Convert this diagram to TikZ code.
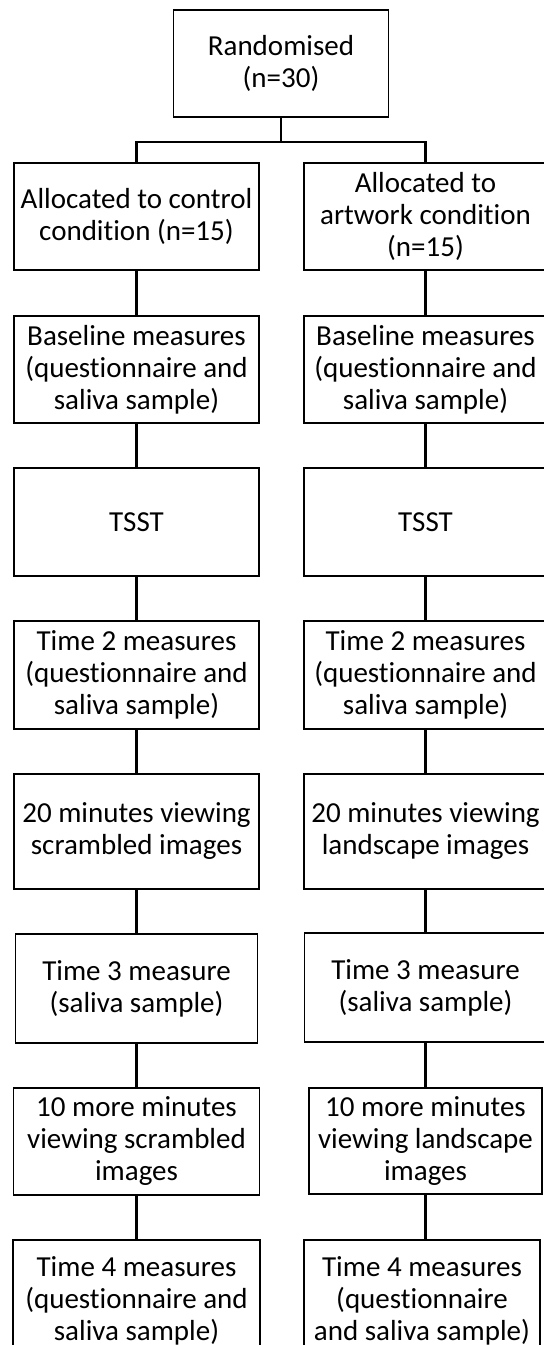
\documentclass[tikz,border=0pt]{standalone}
\usepackage{fontspec}
\setmainfont[Ligatures=NoCommon]{Carlito}
\begin{document}
\begin{tikzpicture}[x=1bp,y=-1bp,
  box/.style={draw, line width=1.3bp, inner sep=0pt, align=center, font=\fontsize{29bp}{32bp}\selectfont},
  link/.style={line width=2.2bp}]
\useasboundingbox (0,0) rectangle (544,1345);
\clip (0,0) rectangle (544,1345);
\node[box, minimum width=215.5bp, minimum height=107bp] (top) at (281,63.5) {Randomised\\(n=30)};
% left column
\node[box, minimum width=245bp, minimum height=107bp] (aL) at (136.5,216.5) {Allocated to control\\condition (n=15)};
\node[box, minimum width=245bp, minimum height=107bp] (bL) at (136.5,369.5) {Baseline measures\\(questionnaire and\\saliva sample)};
\node[box, minimum width=245bp, minimum height=108bp] (tL) at (136.5,522) {TSST};
\node[box, minimum width=245bp, minimum height=108bp] (sL) at (136.5,675) {Time 2 measures\\(questionnaire and\\saliva sample)};
\node[box, minimum width=245bp, minimum height=115bp] (vL) at (136.5,831.5) {20 minutes viewing\\scrambled images};
\node[box, minimum width=241.5bp, minimum height=109bp] (hL) at (136.5,988.5) {Time 3 measure\\(saliva sample)};
\node[box, minimum width=246.5bp, minimum height=107bp] (mL) at (136.5,1141.5) {10 more minutes\\viewing scrambled\\images};
\node[box, minimum width=247bp, minimum height=121bp] (fL) at (136.5,1300.5) {Time 4 measures\\(questionnaire and\\saliva sample)};
% right column
\node[box, minimum width=243bp, minimum height=107bp] (aR) at (425.5,216.5) {Allocated to\\artwork condition\\(n=15)};
\node[box, minimum width=243bp, minimum height=107bp] (bR) at (425.5,369.5) {Baseline measures\\(questionnaire and\\saliva sample)};
\node[box, minimum width=243bp, minimum height=108bp] (tR) at (425.5,522) {TSST};
\node[box, minimum width=243bp, minimum height=108bp] (sR) at (425.5,675) {Time 2 measures\\(questionnaire and\\saliva sample)};
\node[box, minimum width=243bp, minimum height=115bp] (vR) at (425.5,831.5) {20 minutes viewing\\landscape images};
\node[box, minimum width=242.5bp, minimum height=109bp] (hR) at (425.5,987.5) {Time 3 measure\\(saliva sample)};
\node[box, minimum width=233bp, minimum height=106bp] (mR) at (425.5,1141) {10 more minutes\\viewing landscape\\images};
\node[box, minimum width=236bp, minimum height=121bp] (fR) at (422,1300.5) {Time 4 measures\\(questionnaire\\and saliva sample)};
% connectors
\coordinate (fork) at ([yshift=-24bp]top.south);
\draw[link] (top.south) -- (fork);
\draw[link] (fork) -| (aL.north);
\draw[link] (fork) -| (aR.north);
\foreach \a/\b in {aL/bL,bL/tL,tL/sL,sL/vL,vL/hL,hL/mL,mL/fL,aR/bR,bR/tR,tR/sR,sR/vR,vR/hR,hR/mR}
  \draw[link] (\a.south) -- (\b.north);
\draw[link] (mR.south) -- (mR.south |- fR.north);
\end{tikzpicture}
\end{document}
